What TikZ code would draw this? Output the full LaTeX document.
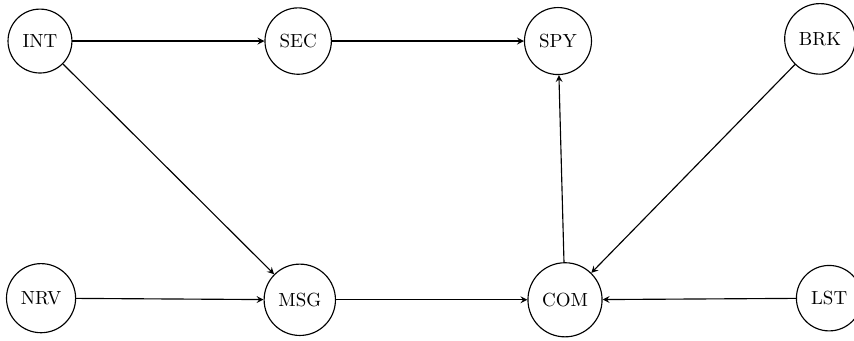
\documentclass[tikz,border=0pt]{standalone}
\usepackage{amsfonts,amsmath,amssymb}
\usepackage{xcolor}
\usepackage{tikz}
\usetikzlibrary{arrows.meta,shapes}

\begin{document}
\begin{tikzpicture}[>=stealth,semithick,every node/.style={circle,draw,inner sep=5.3pt}]
\useasboundingbox(0,0) rectangle (15.81,6.31);
\node(INT) at (0.74,5.55){INT};
\node(SEC) at (5.52,5.55){SEC};
\node(SPY) at (10.33,5.55){SPY};
\node(BRK) at (15.18,5.59){BRK};
\node(NRV) at (0.76,0.79){NRV};
\node(MSG) at (5.55,0.76){MSG};
\node(COM) at (10.46,0.76){COM};
\node(LST) at (15.35,0.79){LST};
\draw[->](INT)--(SEC);
\draw[->](SEC)--(SPY);
\draw[->](INT)--(MSG);
\draw[->](NRV)--(MSG);
\draw[->](MSG)--(COM);
\draw[->](COM)--(SPY);
\draw[->](BRK)--(COM);
\draw[->](LST)--(COM);
\end{tikzpicture}
\end{document}
